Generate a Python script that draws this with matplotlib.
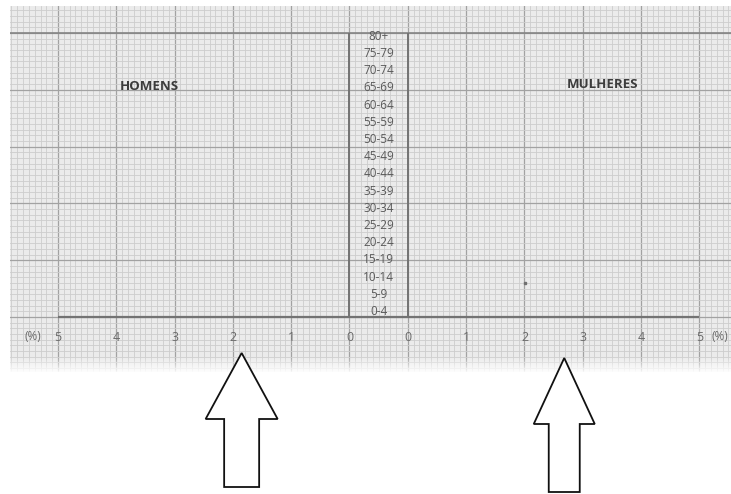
import numpy as np
import matplotlib.pyplot as plt
from matplotlib.ticker import MultipleLocator
from matplotlib.patches import FancyArrow

# faixas etarias (de baixo para cima)
idades = ['0-4', '5-9', '10-14', '15-19', '20-24', '25-29', '30-34', '35-39',
          '40-44', '45-49', '50-54', '55-59', '60-64', '65-69', '70-74',
          '75-79', '80+']
pct_ticks = [0, 1, 2, 3, 4, 5]
titulos = ['HOMENS', 'MULHERES']
# setas: (lado, valor em %, largura do corpo, largura da ponta)
setas = [('H', 1.85, 35, 72), ('M', 2.68, 31, 61)]

W, H = 731, 494
fig = plt.figure(figsize=(W / 100, H / 100), dpi=100)
fig.patch.set_facecolor('white')


def box(x0, y0, x1, y1):
    # caixa em pixels (origem em cima) -> fracao da figura
    return [x0 / W, 1 - y1 / H, (x1 - x0) / W, (y1 - y0) / H]


# papel milimetrado
ux, uy = 58.3, 56.8
ox, oy = 58, 33
paper = fig.add_axes(box(10, 6, 731, 372))
paper.set_xlim((10 - ox) / ux, (731 - ox) / ux)
paper.set_ylim((372 - oy) / uy, (6 - oy) / uy)
paper.set_facecolor('#ebebeb')
paper.xaxis.set_major_locator(MultipleLocator(1))
paper.yaxis.set_major_locator(MultipleLocator(1))
paper.xaxis.set_minor_locator(MultipleLocator(0.1))
paper.yaxis.set_minor_locator(MultipleLocator(0.1))
paper.grid(which='minor', color='#cdcdcd', lw=0.6)
paper.grid(which='major', color='#a2a2a2', lw=0.9)
paper.tick_params(which='both', length=0, labelbottom=False, labelleft=False)
for s in paper.spines.values():
    s.set_visible(False)
paper.set_axisbelow(True)
paper.axhline(0, color='#858585', lw=1.2)
paper.hlines(5, 0, 11, color='#737373', lw=1.6)
paper.vlines([5, 6], 0, 5, color='#737373', lw=1.4)

# eixos da piramide
ylo, yhi = -0.41, 16.1
ax_h = fig.add_axes(box(58, 33, 349.5, 317))
ax_m = fig.add_axes(box(408, 33, 699.5, 317))
ax_h.set_xlim(5, 0)
ax_m.set_xlim(0, 5)
for ax in (ax_h, ax_m):
    ax.set_ylim(ylo, yhi)
    ax.patch.set_alpha(0)
    for s in ax.spines.values():
        s.set_visible(False)
    ax.set_xticks(pct_ticks)
    ax.set_xticklabels([str(v) for v in pct_ticks], fontsize=9,
                       color='#6a6a6a', family='Open Sans')
    ax.tick_params(axis='x', length=0, pad=10)
    ax.set_yticks([])

ax_h.yaxis.tick_right()
ax_h.set_yticks(range(len(idades)))
ax_h.set_yticklabels(idades, fontsize=8.5, color='#5a5a5a', family='Open Sans',
                     ha='center')
ax_h.tick_params(axis='y', length=0, pad=21)

ax_h.text(3.43, 13, titulos[0], ha='center', va='center', fontsize=9.5,
          fontweight='bold', color='#3c3c3c', family='Open Sans')
ax_m.text(3.33, 13.1, titulos[1], ha='center', va='center', fontsize=9.5,
          fontweight='bold', color='#3c3c3c', family='Open Sans')
ax_h.annotate('(%)', xy=(5, 0), xycoords=('data', 'axes fraction'),
              xytext=(-18, -14), textcoords='offset points', ha='center',
              va='center', fontsize=8.5, color='#6a6a6a', family='Open Sans')
ax_m.annotate('(%)', xy=(5, 0), xycoords=('data', 'axes fraction'),
              xytext=(15, -14), textcoords='offset points', ha='center',
              va='center', fontsize=8.5, color='#6a6a6a', family='Open Sans')
# pequena marca no papel
ax_m.plot([2], [1.55], marker='s', ms=1.6, color='#707070')

# setas abaixo do grafico
over = fig.add_axes([0, 0, 1, 1])
over.set_xlim(0, W)
over.set_ylim(H, 0)
over.axis('off')
# esmaecimento da borda inferior do papel (scanner)
fade = np.zeros((20, 2, 4))
fade[..., :3] = 1.0
fade[..., 3] = np.linspace(0, 1, 20)[:, None]
over.imshow(fade, extent=(10, 731, 374, 356), aspect='auto',
            interpolation='bilinear', zorder=1)
over.set_xlim(0, W)
over.set_ylim(H, 0)
for lado, val, larg, cab in setas:
    ax = ax_h if lado == 'H' else ax_m
    x = ax.transData.transform((val, 0))[0]
    y0 = 487 if lado == 'H' else 492
    over.add_patch(FancyArrow(x, y0, 0, -134, width=larg, head_width=cab,
                              head_length=66, length_includes_head=True,
                              facecolor='white', edgecolor='#111111', lw=1.3,
                              zorder=2))

fig.savefig('out.png', dpi=100)
